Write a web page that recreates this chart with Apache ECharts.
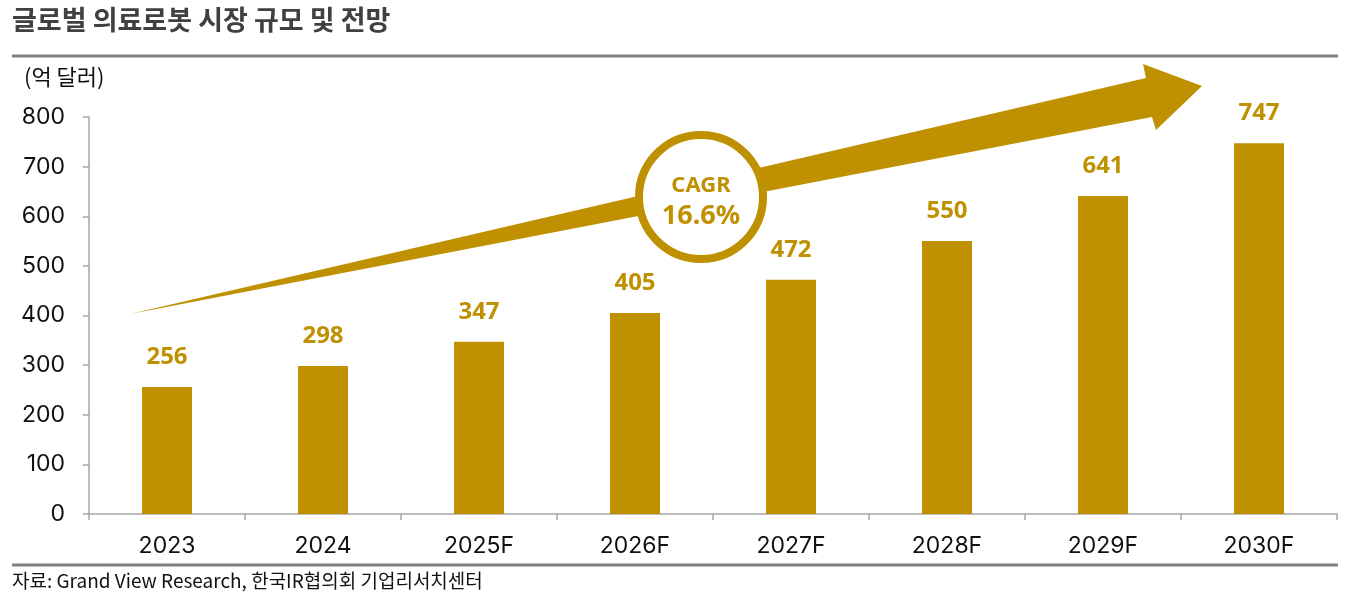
<!DOCTYPE html>
<html>
<head>
<meta charset="utf-8">
<script src="https://cdn.jsdelivr.net/npm/echarts@6/dist/echarts.min.js"></script>
<style>
  html, body { margin: 0; padding: 0; background: #fff; }
  #chart { width: 1359px; height: 607px; }
</style>
</head>
<body>
<div id="chart"></div>
<script>
const years = ["2023", "2024", "2025F", "2026F", "2027F", "2028F", "2029F", "2030F"];
const marketSize = [256, 298, 347, 405, 472, 550, 641, 747];
const yTicks = [0, 100, 200, 300, 400, 500, 600, 700, 800];

const gold = "#BF9000";
const font = "'Noto Sans CJK KR', 'Noto Sans', sans-serif";
const numFont = "Inter, 'Noto Sans', sans-serif";

const chart = echarts.init(document.getElementById("chart"));

const option = {
  animation: false,
  textStyle: { fontFamily: font },
  grid: {
    left: 89,
    right: 22,
    top: 117,
    bottom: 93,
  },
  xAxis: {
    type: "category",
    data: years,
    axisLine: { lineStyle: { color: "#A6A6A6", width: 1.5 } },
    axisTick: { show: true, length: 6, lineStyle: { color: "#A6A6A6", width: 1.5 } },
    axisLabel: { color: "#111", fontSize: 23, margin: 21, fontFamily: numFont },
  },
  yAxis: {
    type: "value",
    min: yTicks[0],
    max: yTicks[yTicks.length - 1],
    interval: 100,
    axisLine: { show: true, lineStyle: { color: "#A6A6A6", width: 1.5 } },
    axisTick: { show: true, length: 6, lineStyle: { color: "#A6A6A6", width: 1.5 } },
    splitLine: { show: false },
    axisLabel: { color: "#111", fontSize: 23, margin: 24, fontFamily: numFont },
  },
  series: [
    {
      type: "bar",
      data: marketSize,
      barWidth: 50,
      itemStyle: { color: gold },
      label: {
        show: true,
        position: "top",
        distance: 18,
        color: gold,
        fontSize: 24,
        fontWeight: "bold",
        fontFamily: "'Noto Sans', sans-serif",
      },
    },
  ],
  graphic: [
    {
      type: "text",
      left: 12,
      top: 6,
      style: { text: "글로벌 의료로봇 시장 규모 및 전망", fill: "#404040", font: "bold 27px " + font },
    },
    {
      type: "line",
      shape: { x1: 12, y1: 56, x2: 1338, y2: 56 },
      style: { stroke: "#808080", lineWidth: 3 },
    },
    {
      type: "text",
      left: 24,
      top: 66,
      style: { text: "(억 달러)", fill: "#111", font: "22px " + font },
    },
    {
      type: "line",
      shape: { x1: 12, y1: 565, x2: 1338, y2: 565 },
      style: { stroke: "#808080", lineWidth: 3 },
    },
    {
      type: "text",
      left: 12,
      top: 571,
      style: { text: "자료: Grand View Research, 한국IR협의회 기업리서치센터", fill: "#111", font: "19px " + font },
    },
    {
      type: "polygon",
      z: 10,
      shape: {
        points: [
          [130, 314],
          [1146, 78],
          [1143, 64],
          [1202, 86],
          [1156, 130],
          [1152, 117],
        ],
      },
      style: { fill: gold },
    },
    {
      type: "circle",
      z: 11,
      shape: { cx: 701, cy: 197, r: 62 },
      style: { fill: "#fff", stroke: gold, lineWidth: 8 },
    },
    {
      type: "text",
      z: 12,
      x: 701,
      y: 186,
      style: {
        text: "CAGR",
        fill: gold,
        font: "bold 22px 'Noto Sans', sans-serif",
        align: "center",
        verticalAlign: "middle",
      },
    },
    {
      type: "text",
      z: 12,
      x: 701,
      y: 216,
      style: {
        text: "16.6%",
        fill: gold,
        font: "bold 27px 'Noto Sans', sans-serif",
        align: "center",
        verticalAlign: "middle",
      },
    },
  ],
};

chart.setOption(option);

window.addEventListener("resize", () => {
  chart.resize();
});
</script>
</body>
</html>
